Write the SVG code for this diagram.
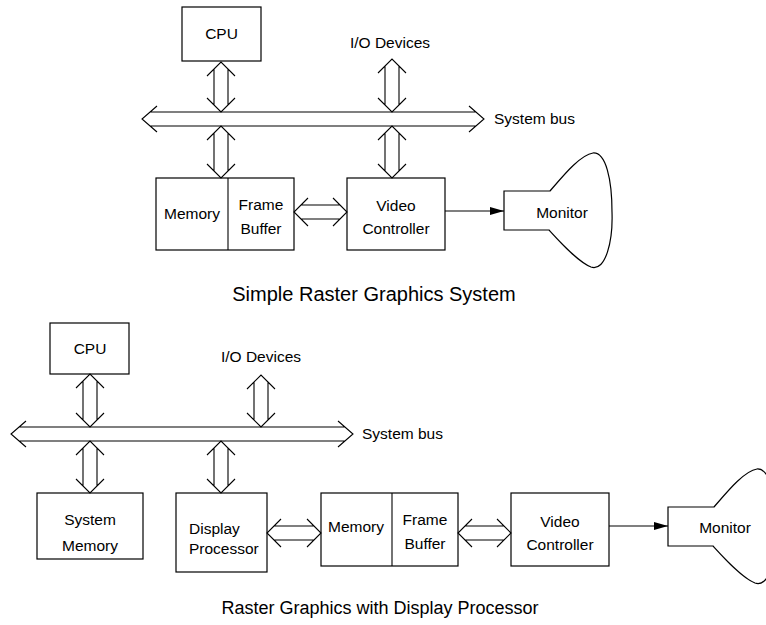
<svg xmlns="http://www.w3.org/2000/svg" width="766" height="625" viewBox="0 0 766 625">
<defs>
<style>
.box{fill:#fff;stroke:#000;stroke-width:1.2}
.dbl{fill:none;stroke:#000;stroke-width:1.1}
.ln{fill:none;stroke:#000;stroke-width:1.1}
text{font-family:"Liberation Sans",Arial,sans-serif;font-size:15.5px;fill:#000}
.c{text-anchor:middle}
.title{font-size:18px;text-anchor:middle}
.t1{font-size:20px}
</style>
<marker id="ah" markerWidth="14" markerHeight="8" refX="14" refY="4" orient="auto" markerUnits="userSpaceOnUse">
<path d="M0,0 L14,4 L0,8 Z" fill="#000"/>
</marker>
<path id="mon" class="box" d="M550,191 L504,191 L504,230 L549,230 C560,242 578,262 591,267 C606,272 613,240 612,212 C612,180 606,152 593,153 C580,155 563,176 550,191 Z"/>
</defs>
<rect width="766" height="625" fill="#fff"/>

<!-- Top diagram -->
<g id="cpu1"><rect class="box" x="182" y="7" width="79" height="54"/><text class="c" x="221.5" y="39">CPU</text></g>
<g id="io1"><text class="c" x="390" y="48">I/O Devices</text></g>
<g id="bus1"><path class="dbl" d="M157,106 L142,119 L157,132 M150,112 H476 M150,126 H476 M469,106 L484,119 L469,132"/><text x="494" y="124">System bus</text></g>
<g id="memfb1"><rect class="box" x="156" y="178" width="138" height="72"/><line class="ln" x1="228" y1="178" x2="228" y2="250"/><text class="c" x="192" y="219">Memory</text><text class="c" x="261" y="210">Frame</text><text class="c" x="261" y="234">Buffer</text></g>
<g id="vc1"><rect class="box" x="347" y="178" width="98" height="72"/><text class="c" x="396" y="211">Video</text><text class="c" x="396" y="234">Controller</text></g>
<g id="mon1"><use href="#mon"/><text class="c" x="562" y="218">Monitor</text></g>
<g id="title1"><text class="title t1" x="374" y="301">Simple Raster Graphics System</text></g>

<!-- Bottom diagram -->
<g id="cpu2"><rect class="box" x="50" y="323" width="79" height="51"/><text class="c" x="90" y="354">CPU</text></g>
<g id="io2"><text class="c" x="261" y="362">I/O Devices</text></g>
<g id="bus2"><path class="dbl" d="M26,421 L11,434 L26,447 M19,427 H345 M19,441 H345 M338,421 L353,434 L338,447"/><text x="362" y="439">System bus</text></g>
<g id="sysmem"><rect class="box" x="37" y="493" width="106" height="66"/><text class="c" x="90" y="525">System</text><text class="c" x="90" y="551">Memory</text></g>
<g id="dp"><rect class="box" x="176" y="493" width="91" height="79"/><text x="189" y="534">Display</text><text x="189" y="554">Processor</text></g>
<g id="memfb2"><rect class="box" x="321" y="493" width="137" height="73"/><line class="ln" x1="392" y1="493" x2="392" y2="566"/><text class="c" x="356" y="532">Memory</text><text class="c" x="425" y="525">Frame</text><text class="c" x="425" y="549">Buffer</text></g>
<g id="vc2"><rect class="box" x="511" y="493" width="98" height="73"/><text class="c" x="560" y="527">Video</text><text class="c" x="560" y="550">Controller</text></g>
<g id="mon2"><use href="#mon" transform="translate(164,316)"/><text class="c" x="725" y="533">Monitor</text></g>
<g id="title2"><text class="title" x="380" y="614">Raster Graphics with Display Processor</text></g>

<g id="connectors">
<path class="dbl" d="M207,76 L221,62 L235,76 M214,69 V105 M228,69 V105 M207,98 L221,112 L235,98"/>
<path class="dbl" d="M207,140 L221,126 L235,140 M214,133 V171 M228,133 V171 M207,164 L221,178 L235,164"/>
<path class="dbl" d="M378,73 L392,59 L406,73 M385,66 V105 M399,66 V105 M378,98 L392,112 L406,98"/>
<path class="dbl" d="M378,140 L392,126 L406,140 M385,133 V171 M399,133 V171 M378,164 L392,178 L406,164"/>
<path class="dbl" d="M308,198 L294,212 L308,226 M301,205 H340 M301,219 H340 M333,198 L347,212 L333,226"/>
<line class="ln" x1="445" y1="211" x2="504" y2="211" marker-end="url(#ah)"/>

<path class="dbl" d="M76,388 L90,374 L104,388 M83,381 V420 M97,381 V420 M76,413 L90,427 L104,413"/>
<path class="dbl" d="M247,389 L261,375 L275,389 M254,382 V420 M268,382 V420 M247,413 L261,427 L275,413"/>
<path class="dbl" d="M76,455 L90,441 L104,455 M83,448 V486 M97,448 V486 M76,479 L90,493 L104,479"/>
<path class="dbl" d="M207,455 L221,441 L235,455 M214,448 V486 M228,448 V486 M207,479 L221,493 L235,479"/>
<path class="dbl" d="M281,519 L267,533 L281,547 M274,526 H314 M274,540 H314 M307,519 L321,533 L307,547"/>
<path class="dbl" d="M472,519 L458,533 L472,547 M465,526 H504 M465,540 H504 M497,519 L511,533 L497,547"/>
<line class="ln" x1="609" y1="526" x2="668" y2="526" marker-end="url(#ah)"/>
</g>
</svg>
